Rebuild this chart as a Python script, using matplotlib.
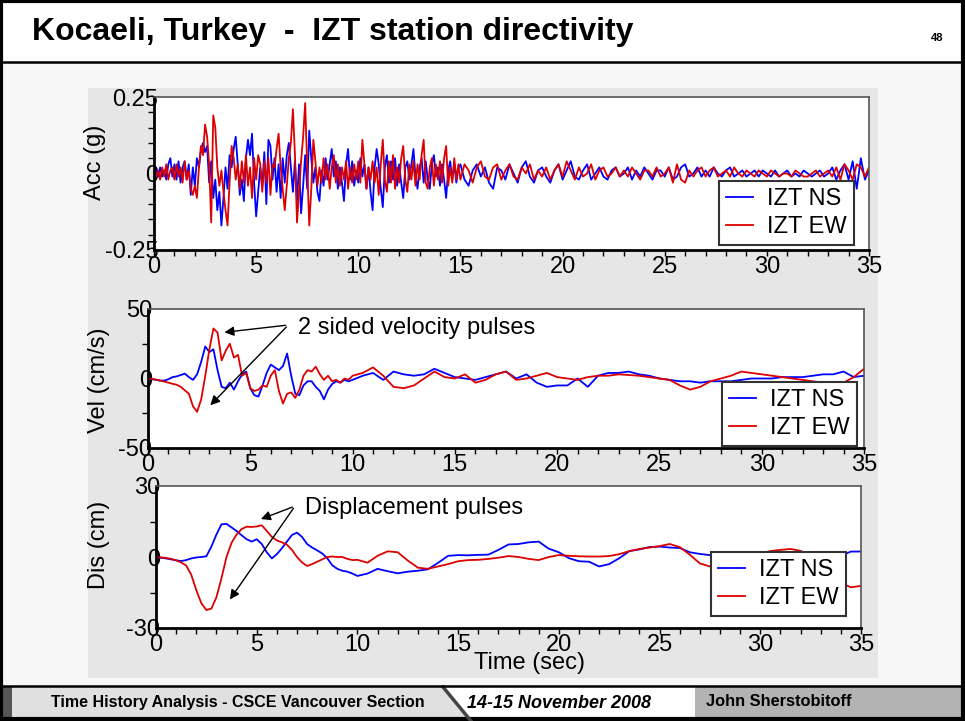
import numpy as np
import matplotlib.pyplot as plt
from matplotlib.patches import Rectangle, Polygon
from matplotlib.lines import Line2D

plt.rcParams['font.family'] = ['Liberation Sans', 'DejaVu Sans']

W, H = 965, 721

# time bases (sec): finer sampling where the shaking is strong
t_acc = np.concatenate([np.arange(150) * 0.1, 15 + np.arange(101) * 0.2])
t_vel = np.concatenate([np.arange(50) * 0.2, 10 + np.arange(51) * 0.5])
t_dis = np.concatenate([np.arange(40) * 0.25, 10 + np.arange(51) * 0.5])

# acceleration (g)
acc_ns = [0, 0.01, -0.01, 0.02, -0.01, 0.01, -0.02, 0.03, 0.05, -0.01,
          0.03, -0.02, 0.04, -0.03, 0.02, 0.04, -0.02, 0.03, -0.07, 0.02,
          -0.04, 0.05, 0.02, 0.08, 0.10, 0.07, 0.09, -0.03, 0.04, -0.08,
          -0.02, -0.12, -0.06, -0.17, -0.08, 0.02, -0.05, 0.06, 0.02, 0.08,
          0.12, 0.03, -0.07, -0.02, -0.09, 0.05, 0.11, 0.06, 0.13, -0.03,
          -0.14, -0.06, 0.02, -0.04, 0.07, -0.10, 0.11, 0.09, -0.02, 0.05,
          -0.06, 0.03, -0.08, 0.05, -0.03, 0.06, 0.10, 0.02, -0.06, 0.04,
          -0.09, 0.03, -0.13, -0.04, 0.06, -0.05, 0.14, 0.05, -0.03, 0.02,
          -0.06, -0.09, 0.01, -0.04, 0.05, -0.02, 0.03, 0.08, -0.01, 0.04,
          -0.05, 0.02, -0.03, -0.09, 0.03, 0.08, -0.02, 0.04, -0.04, 0.01,
          -0.03, 0.05, -0.01, 0.03, -0.05, 0.02, -0.06, -0.12, 0.02, 0.08,
          0.03, -0.05, -0.11, 0.02, 0.06, -0.03, 0.04, -0.02, 0.05, -0.04,
          0.03, -0.03, -0.08, 0.02, 0.04, -0.02, 0.03, 0.08, -0.01, -0.05,
          0.02, 0.05, -0.03, 0.04, -0.02, -0.05, 0.03, 0.06, -0.01, 0.02,
          -0.04, 0.03, -0.02, -0.08, 0.01, 0.04, -0.02, 0.03, -0.03, 0.02,
          # 15 s onwards, every 0.2 s
          0.03, -0.02, -0.04, 0.01, 0.03, -0.01, 0.02, -0.03, -0.05, 0.02,
          0.01, -0.02, 0.03, 0.00, -0.03, 0.02, 0.04, -0.01, -0.03, 0.01,
          0.02, -0.01, -0.03, 0.01, 0.03, -0.02, 0.01, 0.04, -0.01, -0.02,
          0.01, 0.03, -0.02, 0.00, 0.02, -0.01, -0.02, 0.01, 0.02, -0.01,
          0.00, 0.02, -0.02, 0.01, -0.01, 0.02, 0.00, -0.02, 0.01, 0.01,
          -0.01, 0.02, -0.02, -0.01, 0.02, 0.03, -0.01, 0.00, 0.02, -0.01,
          0.01, -0.01, 0.02, 0.00, -0.01, 0.01, 0.02, -0.01, 0.00, 0.01,
          -0.01, 0.00, 0.01, -0.01, 0.01, 0.00, -0.01, 0.01, -0.01, 0.00,
          0.01, -0.01, 0.00, -0.01, 0.01, 0.00, -0.01, 0.00, 0.01, -0.01,
          0.00, 0.02, -0.02, 0.01, 0.03, -0.02, 0.04, -0.05, 0.05, -0.02,
          0.01]
acc_ew = [0, -0.01, 0.01, -0.02, 0.02, -0.01, 0.03, -0.02, 0.01, 0.02,
          -0.02, 0.03, -0.01, 0.02, -0.03, 0.04, -0.02, 0.01, -0.05, -0.07,
          -0.04, -0.08, 0.02, 0.09, 0.06, 0.16, 0.12, 0.03, -0.16, 0.19,
          0.15, 0.02, -0.04, 0.01, -0.06, -0.12, -0.17, -0.03, 0.09, 0.05,
          -0.02, 0.03, -0.05, 0.04, -0.03, 0.06, -0.04, 0.02, -0.08, 0.05,
          -0.02, 0.06, 0.03, -0.06, 0.04, -0.03, 0.05, -0.07, 0.03, 0.02,
          0.08, 0.13, 0.02, -0.05, -0.12, -0.04, 0.05, 0.10, 0.21, 0.06,
          -0.16, -0.06, 0.04, 0.12, 0.23, 0.02, -0.17, -0.05, 0.11, 0.04,
          -0.04, 0.02, -0.03, 0.05, -0.02, 0.03, -0.05, 0.02, 0.06, -0.03,
          0.03, -0.04, 0.02, -0.02, 0.04, -0.05, 0.02, -0.03, 0.03, -0.02,
          0.04, -0.03, 0.11, 0.03, -0.05, 0.02, -0.02, 0.04, -0.03, 0.02,
          -0.07, 0.03, 0.11, -0.02, -0.06, 0.04, -0.03, 0.06, -0.05, 0.02,
          -0.03, 0.05, 0.09, -0.02, -0.06, 0.03, -0.02, 0.04, -0.04, 0.03,
          -0.02, 0.06, 0.11, -0.03, -0.05, 0.02, 0.05, -0.04, 0.03, -0.02,
          0.04, -0.03, 0.05, 0.09, -0.04, 0.02, -0.03, 0.05, -0.02, 0.03,
          # 15 s onwards, every 0.2 s
          -0.02, 0.03, 0.01, -0.03, 0.02, 0.04, -0.01, -0.02, 0.02, 0.03,
          -0.02, 0.01, 0.03, -0.01, -0.02, 0.02, 0.00, 0.03, -0.02, 0.01,
          -0.01, 0.02, -0.02, 0.01, 0.03, -0.01, 0.04, 0.01, -0.02, 0.02,
          -0.01, 0.00, 0.03, -0.02, 0.01, 0.02, -0.01, 0.00, 0.02, -0.01,
          0.01, -0.01, 0.02, 0.00, -0.02, 0.01, 0.01, -0.01, 0.02, -0.01,
          0.00, 0.02, -0.03, 0.03, -0.02, -0.03, 0.01, -0.01, 0.01, 0.02,
          -0.01, 0.01, 0.02, -0.01, 0.00, 0.01, -0.01, 0.02, 0.00, -0.01,
          0.01, 0.00, -0.01, 0.01, 0.00, -0.01, 0.01, 0.00, -0.01, 0.00,
          0.00, -0.01, 0.01, 0.00, -0.01, -0.01, 0.00, 0.01, -0.01, 0.00,
          0.01, -0.01, 0.02, -0.02, 0.03, 0.01, -0.02, 0.03, 0.02, -0.01,
          0.02]

# velocity (cm/s)
vel_ns = [0, -0.5, -1, -1.5, -1.5, -0.5, 1, 1.5, 2.5, 3.5,
          1, -1, 3, 12, 23, 19, 21, 6, -6, -7,
          -3, -8, -2, 3, 5, -7, -12, -13, -5, 4,
          10, 8, 6, 9, 18, 2, -11, -12, -5, -2,
          -2, -6, -9, -15, -8, -4, -2, -3, -1, -2,
          # 10 s onwards, every 0.5 s
          -1, 2, 4, -1, 5, 3, 2, 3, 7, 4,
          1, 0, -1, 1, 3, 5, 0, 3, -3, -6,
          -5, -5, 0, -6, 2, 4, 4, 5, 3, 2,
          0, -1, -2, -2, -3, -2, -2, -2, -1, 0,
          0, 0, 1, 1, 1, 2, 3, 3, 5, 1, 2]
vel_ew = [0, -0.3, -0.8, -1.5, -2.2, -3.0, -3.8, -4.5, -6, -8.5,
          -11, -20, -24, -15, 2, 21, 36, 33, 13, 20,
          25, 15, 17, 2, 4, -7, -9, -8, -5, -6,
          2, 6, -9, -18, -11, -10, -14, -8, 2, 6,
          5, 8.5, 3, -1, 2, -2, -1, -3, 0, -1,
          # 10 s onwards, every 0.5 s
          2, 4, 8, 2, -6, -7, -5, 0, 5, 1,
          0, 3, -3, -1, 3, 5, -1, 0, 2, 4,
          1, 0, -1, 1, 2, 2, 3, 2.5, 2, 1,
          0, -1, -5, -8, -6, -2, 0, 2, 5, 4,
          3, 2, 1, 0, -1, -2, -3, -4, -3, 1, 7]

# displacement (cm)
dis_ns = [0, -0.3, -0.6, -1, -1.4, -1.7, -1.3, -0.6, -0.2, 0,
          0.3, 4.4, 9.5, 13.8, 14, 12.5, 11, 9.2, 7.5, 6.5,
          7.5, 5.5, 2, -0.6, 1.2, 3.7, 6.5, 9.3, 10.3, 8.5,
          5.5, 4, 2.8, 1.5, -0.5, -3.5, -5, -5.8, -6.2, -7,
          # 10 s onwards, every 0.5 s
          -8, -7, -5, -6, -6.9, -6.2, -5.8, -5.2, -2.5, 0.5,
          0.8, 0.7, 0.9, 1, 3, 5.3, 5.5, 6.2, 6.5, 3.5,
          2, -0.5, -1.8, -2, -4, -3, -0.5, 2.5, 3.2, 4.2,
          4.4, 4, 3.8, 2, 1.3, 0.8, 0.4, 0, -0.5, -0.8,
          -0.5, 0, 0.5, 0.2, -0.5, -1, -1.5, -1.3, 0.5, 2.3, 2.3]
dis_ew = [0, -0.2, -0.4, -0.8, -1.4, -2.3, -3.6, -7.5, -14, -19.5,
          -22.4, -21.8, -17, -9, 0, 6, 9.5, 11.8, 12.8, 12.7,
          12.9, 13.4, 11, 8.5, 7, 6.2, 5.2, 3, 0, -2.3,
          -3.8, -3, -2, -1, 0, 0.2, 0, 0, -0.8, -1.3,
          # 10 s onwards, every 0.5 s
          -1.2, -2.4, 0.5, 2.4, 2, -1.5, -4.5, -5, -4, -3,
          -1.8, -1.3, -1.2, -0.8, -0.3, 0.4, 0, -0.8, -1.3, 0,
          0.8, 0.5, 0.3, 0.2, 0.2, 0.4, 1.2, 2.5, 3.4, 4,
          4.6, 5.5, 4.2, 1, -2.7, -4, -3.5, -2.5, -1, 0.5,
          1.5, 2.5, 3, 3.4, 2.6, 0.5, -3, -7, -11, -12.8, -12.2]

labels = ['IZT NS', 'IZT EW']
colors = ['#0000ff', '#dd0000']

fig = plt.figure(figsize=(W / 100, H / 100), dpi=100)
fig.patch.set_facecolor('white')


def rect(x0, y0, x1, y1):
    return [x0 / W, 1 - y1 / H, (x1 - x0) / W, (y1 - y0) / H]


# slide background drawn in pixel units
bg = fig.add_axes([0, 0, 1, 1], zorder=0)
bg.set_xlim(0, W)
bg.set_ylim(H, 0)
bg.axis('off')
bg.add_patch(Rectangle((0, 62), W, 625, fc='#f7f7f7', ec='none'))
bg.add_patch(Rectangle((88, 88), 790, 590, fc='#e6e6e6', ec='none'))
bg.add_patch(Polygon([(0, 687), (443, 687), (471, 721), (0, 721)], fc='#e0e0e0', ec='none'))
bg.add_patch(Polygon([(443, 687), (695, 687), (695, 721), (471, 721)], fc='white', ec='none'))
bg.add_patch(Rectangle((695, 687), 270, 34, fc='#b3b3b3', ec='none'))
bg.add_patch(Rectangle((0, 687), 12, 34, fc='#555555', ec='none'))
bg.plot([443, 471], [687, 721], color='#444444', lw=2.5)
bg.plot([0, W], [62, 62], color='black', lw=1.8)
bg.plot([0, W], [686, 686], color='black', lw=1.8)
bg.add_patch(Rectangle((1, 1), W - 3, H - 3, fc='none', ec='black', lw=3))

bg.text(32, 32, 'Kocaeli, Turkey  -  IZT station directivity', fontsize=23,
        fontweight='bold', ha='left', va='center')
bg.text(937, 38, '48', fontsize=8, fontweight='bold', ha='center', va='center')
bg.text(51, 703, 'Time History Analysis - CSCE Vancouver Section', fontsize=11.5,
        fontweight='bold', ha='left', va='center')
bg.text(467, 703, '14-15 November 2008', fontsize=13, fontweight='bold',
        fontstyle='italic', ha='left', va='center')
bg.text(706, 701, 'John Sherstobitoff', fontsize=11.8, fontweight='bold',
        ha='left', va='center')

bg.text(95, 162, 'Acc (g)', rotation=90, fontsize=17, ha='center', va='center')
bg.text(99, 380, 'Vel (cm/s)', rotation=90, fontsize=17, ha='center', va='center')
bg.text(99, 545, 'Dis (cm)', rotation=90, fontsize=17, ha='center', va='center')
bg.text(530, 663, 'Time (sec)', fontsize=17, ha='center', va='center')


def make_axes(box, t, ns, ew, lim, minor_step, legend_xy):
    ax = fig.add_axes(rect(*box), zorder=1)
    ax.set_facecolor('white')
    ax.plot(t, ns, color=colors[0], lw=1.3)
    ax.plot(t, ew, color=colors[1], lw=1.3)
    ax.set_xlim(0, 35)
    ax.set_ylim(-lim, lim)
    ax.set_xticks(range(0, 36, 5))
    ax.set_xticks(range(36), minor=True)
    ax.set_yticks([-lim, 0, lim])
    ax.set_yticklabels([('%g' % -lim), '0', ('%g' % lim)])
    ax.set_yticks(np.arange(-lim, lim + 1e-9, minor_step), minor=True)
    ax.tick_params(axis='x', which='both', direction='out', length=4,
                   width=1, labelsize=17, pad=0)
    ax.tick_params(axis='y', which='major', length=0, labelsize=17, pad=-3)
    ax.tick_params(axis='y', which='minor', direction='out', length=4, width=1)
    for s in ['left', 'bottom']:
        ax.spines[s].set_linewidth(2)
        ax.spines[s].set_color('black')
    for s in ['top', 'right']:
        ax.spines[s].set_linewidth(1.2)
        ax.spines[s].set_color('#555555')
    handles = [Line2D([], [], color=c, lw=1.3) for c in colors]
    leg = ax.legend(handles, labels, loc='upper left',
                    bbox_to_anchor=(legend_xy[0] / W, 1 - legend_xy[1] / H),
                    bbox_transform=fig.transFigure, fontsize=17, frameon=True,
                    fancybox=False, framealpha=1, edgecolor='#333333',
                    borderpad=0.3, handlelength=1.15, handletextpad=0.6,
                    labelspacing=0.25, borderaxespad=0)
    leg.get_frame().set_linewidth(1.5)
    return ax


ax_acc = make_axes((154, 97, 869, 250), t_acc, acc_ns, acc_ew, 0.25, 0.05, (719, 181))
ax_vel = make_axes((148, 309, 864, 448), t_vel, vel_ns, vel_ew, 50, 25, (722, 382))
ax_dis = make_axes((156, 486, 861, 628), t_dis, dis_ns, dis_ew, 30, 15, (711, 552))

arrow = dict(arrowstyle='-|>', color='black', lw=1, mutation_scale=14)
ax_vel.text(7.33, 36, '2 sided velocity pulses', fontsize=17, va='center')
ax_vel.annotate('', xy=(3.6, 33), xytext=(6.86, 38.5), arrowprops=arrow)
ax_vel.annotate('', xy=(2.95, -20.7), xytext=(6.86, 38.5), arrowprops=arrow)
ax_dis.text(7.4, 20.7, 'Displacement pulses', fontsize=17, va='center')
ax_dis.annotate('', xy=(5.08, 15.6), xytext=(6.9, 21.5), arrowprops=arrow)
ax_dis.annotate('', xy=(3.59, -18.9), xytext=(6.9, 21.5), arrowprops=arrow)

fig.savefig('out.png', dpi=100)
